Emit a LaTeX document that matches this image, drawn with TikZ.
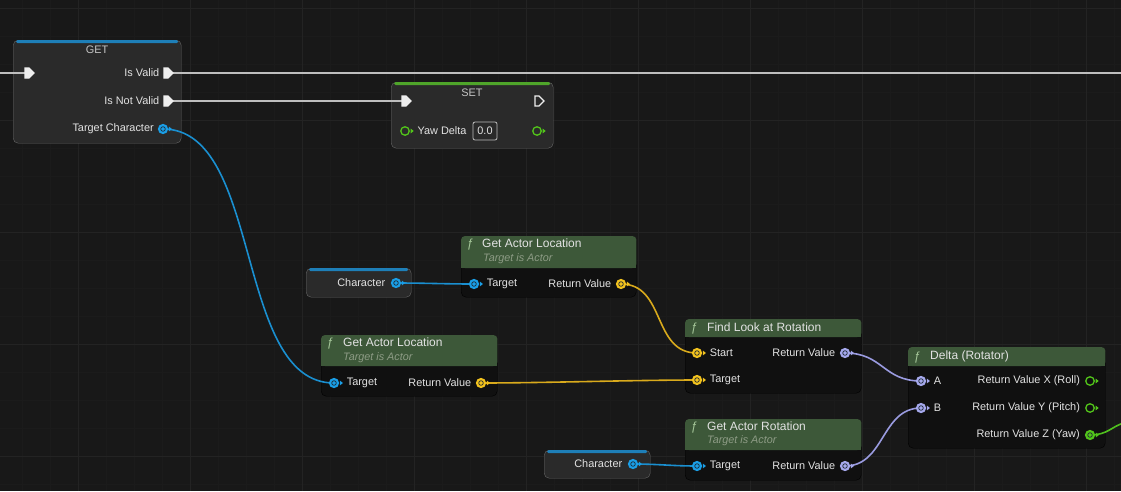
\documentclass[tikz,border=0pt]{standalone}
\usepackage{fontspec}
\setmainfont{Liberation Sans}
\usetikzlibrary{shapes.symbols, positioning}
\usepackage{xcolor}
\definecolor{canvas}{HTML}{181818}
\definecolor{gridmin}{HTML}{1B1B1B}
\definecolor{gridmaj}{HTML}{232323}
\definecolor{varbody}{HTML}{2A2A2A}
\definecolor{fbody}{HTML}{101010}
\definecolor{headc}{HTML}{3D5839}
\definecolor{lblc}{HTML}{E2E2E2}
\definecolor{hdrc}{HTML}{C4C4C4}
\definecolor{subc}{HTML}{8E9C86}
\definecolor{fsymc}{HTML}{A6C79A}
\definecolor{objc}{HTML}{1A9EE6}
\definecolor{objw}{HTML}{1A8FD0}
\definecolor{vecc}{HTML}{F2C21E}
\definecolor{vecw}{HTML}{D9AA1C}
\definecolor{rotc}{HTML}{A5A8EC}
\definecolor{rotw}{HTML}{9A9BE0}
\definecolor{floatc}{HTML}{52C41A}
\definecolor{floatw}{HTML}{4FBF1E}
\definecolor{getstripe}{HTML}{1E7FB8}
\definecolor{setstripe}{HTML}{4FA52A}
\definecolor{execc}{HTML}{EEEEEE}
\definecolor{execw}{HTML}{BEBEBE}
\definecolor{pinring}{HTML}{1E2A33}
\definecolor{boxc}{HTML}{BDBDBD}

\pgfdeclarelayer{grid}
\pgfdeclarelayer{body}
\pgfdeclarelayer{wire}
\pgfsetlayers{grid,body,wire,main}

\begin{document}
\begin{tikzpicture}[
    x=1pt, y=-1pt,
    font=\fontsize{10.9}{12}\selectfont,
    varbox/.style={fill=varbody, draw=black!60, line width=0.4pt, rounded corners=5pt, anchor=north west, inner sep=0},
    funcbox/.style={fill=fbody, draw=black, line width=0.4pt, rounded corners=5pt, anchor=north west, inner sep=0},
    lbl/.style={text=lblc, inner sep=0.5pt},
    title/.style={text=lblc, font=\fontsize{12}{14}\selectfont, anchor=west, inner sep=0},
    subtitle/.style={text=subc, font=\fontsize{10.8}{12}\selectfont\itshape, anchor=west, inner sep=0},
    fsym/.style={text=fsymc, font=\fontsize{12}{14}\selectfont\itshape, inner sep=0},
    datapin/.style={circle, draw=#1, fill=#1, line width=1.2pt, minimum size=9pt, inner sep=0,
        path picture={\draw[pinring, line width=0.7pt] (path picture bounding box.center) circle (2.3pt);},
        append after command={\pgfextra{\fill[#1] (\tikzlastnode.east) ++(0.8,-2.4) -- ++(3,2.4) -- ++(-3,2.4) -- cycle;}}},
    openpin/.style={circle, draw=#1, line width=1.3pt, minimum size=8.5pt, inner sep=0,
        append after command={\pgfextra{\fill[#1] (\tikzlastnode.east) ++(0.8,-2.4) -- ++(3,2.4) -- ++(-3,2.4) -- cycle;}}},
    execpin/.style={signal, signal to=east, draw=execc, fill=#1, line width=1.1pt, minimum width=9pt, minimum height=10pt, inner sep=0},
    execwire/.style={draw=execw, line width=1.6pt},
    wire/.style={draw=#1, line width=1.6pt},
]
\useasboundingbox (0,0) rectangle (1121,491);

% canvas grid
\begin{pgfonlayer}{grid}
\fill[canvas] (0,0) rectangle (1121,491);
\foreach \g in {22,50,...,1121} \draw[gridmin, line width=0.8pt] (\g,0) -- (\g,491);
\foreach \g in {8,36,...,491} \draw[gridmin, line width=0.8pt] (0,\g) -- (1121,\g);
\foreach \g in {78,190,...,1121} \draw[gridmaj, line width=1pt] (\g,0) -- (\g,491);
\foreach \g in {8,120,...,491} \draw[gridmaj, line width=1pt] (0,\g) -- (1121,\g);
\end{pgfonlayer}

% node bodies
\begin{pgfonlayer}{body}
\node[varbox, minimum width=168pt, minimum height=103pt] (get) at (13,40) {};
\fill[getstripe, rounded corners=1.5pt] ([xshift=3pt,yshift=-0.2pt]get.north west) rectangle ([xshift=-3pt,yshift=-3pt]get.north east);
\node[varbox, minimum width=162pt, minimum height=66pt] (set) at (391,82) {};
\fill[setstripe, rounded corners=1.5pt] ([xshift=3pt,yshift=-0.2pt]set.north west) rectangle ([xshift=-3pt,yshift=-3pt]set.north east);
\node[varbox, minimum width=105pt, minimum height=29pt] (charone) at (306,268) {};
\fill[getstripe, rounded corners=1.5pt] ([xshift=3pt,yshift=-0.2pt]charone.north west) rectangle ([xshift=-3pt,yshift=-3pt]charone.north east);
\node[varbox, minimum width=106pt, minimum height=28pt] (chartwo) at (544,450) {};
\fill[getstripe, rounded corners=1.5pt] ([xshift=3pt,yshift=-0.2pt]chartwo.north west) rectangle ([xshift=-3pt,yshift=-3pt]chartwo.north east);

\node[funcbox, minimum width=175pt, minimum height=61pt] (galone) at (461,236) {};
\fill[headc, rounded corners=4pt] (galone.north west) rectangle ([yshift=-32pt]galone.north east);
\fill[headc] ([yshift=-20pt]galone.north west) rectangle ([yshift=-32pt]galone.north east);
\node[funcbox, minimum width=176pt, minimum height=61pt] (galtwo) at (321,335) {};
\fill[headc, rounded corners=4pt] (galtwo.north west) rectangle ([yshift=-31pt]galtwo.north east);
\fill[headc] ([yshift=-20pt]galtwo.north west) rectangle ([yshift=-31pt]galtwo.north east);
\node[funcbox, minimum width=176pt, minimum height=74pt] (findrot) at (685,319) {};
\fill[headc, rounded corners=4pt] (findrot.north west) rectangle ([yshift=-18pt]findrot.north east);
\fill[headc] ([yshift=-10pt]findrot.north west) rectangle ([yshift=-18pt]findrot.north east);
\node[funcbox, minimum width=197pt, minimum height=101pt] (delta) at (908,347) {};
\fill[headc, rounded corners=4pt] (delta.north west) rectangle ([yshift=-19pt]delta.north east);
\fill[headc] ([yshift=-10pt]delta.north west) rectangle ([yshift=-19pt]delta.north east);
\node[funcbox, minimum width=176pt, minimum height=61pt] (garot) at (685,419) {};
\fill[headc, rounded corners=4pt] (garot.north west) rectangle ([yshift=-31pt]garot.north east);
\fill[headc] ([yshift=-20pt]garot.north west) rectangle ([yshift=-31pt]garot.north east);
\end{pgfonlayer}

% GET
\node[lbl, text=hdrc] (gettitle) at (97,50) {GET};
\node[execpin=execc] (getin) at (27,73) {};
\node[execpin=execc] (isvalid) at (166,73) {};
\node[execpin=execc] (notvalid) at (166,101) {};
\node[datapin=objc] (tgtchar) at (163,129) {};
\node[lbl, left=3.5pt of isvalid] (isvalidl) {Is Valid};
\node[lbl, left=3.5pt of notvalid] (notvalidl) {Is Not Valid};
\node[lbl, left=3.5pt of tgtchar] (tgtcharl) {Target Character};
\coordinate (execin) at (0,73);
\coordinate (execout) at (1121,73);

% SET
\node[lbl, text=hdrc] (settitle) at (472,93) {SET};
\node[execpin=execc] (setin) at (404,101) {};
\node[execpin=varbody] (setout) at (537,101) {};
\node[openpin=floatc] (yawin) at (405,131) {};
\node[lbl, right=7pt of yawin] (yawl) {Yaw Delta};
\node[draw=boxc, rounded corners=2pt, line width=0.8pt, text=lblc, minimum width=24pt, minimum height=18pt, inner sep=1pt] (yawval) at (485,131) {0.0};
\node[openpin=floatc] (yawout) at (537,131) {};

% Character variables
\node[datapin=objc] (charonepin) at (396,283) {};
\node[lbl, left=5pt of charonepin] (charonel) {Character};
\node[datapin=objc] (chartwopin) at (633,464) {};
\node[lbl, left=5pt of chartwopin] (chartwol) {Character};

% Get Actor Location (top)
\node[fsym] (galonef) at (470,245) {ƒ};
\node[title] (galonet) at (482,243) {Get Actor Location};
\node[subtitle] (galones) at (483,259) {Target is Actor};
\node[datapin=objc] (galonetgt) at (474,284) {};
\node[lbl, right=7pt of galonetgt] {Target};
\node[datapin=vecc] (galoneret) at (621,284) {};
\node[lbl, left=4pt of galoneret] {Return Value};

% Get Actor Location (bottom)
\node[fsym] (galtwof) at (330,344) {ƒ};
\node[title] (galtwot) at (343,342) {Get Actor Location};
\node[subtitle] (galtwos) at (343,358) {Target is Actor};
\node[datapin=objc] (galtwotgt) at (334,383) {};
\node[lbl, right=7pt of galtwotgt] {Target};
\node[datapin=vecc] (galtworet) at (481,383) {};
\node[lbl, left=4pt of galtworet] {Return Value};

% Find Look at Rotation
\node[fsym] (findf) at (694,329) {ƒ};
\node[title] (findt) at (707,327) {Find Look at Rotation};
\node[datapin=vecc] (findstart) at (697,353) {};
\node[lbl, right=7pt of findstart] {Start};
\node[datapin=vecc] (findtgt) at (697,380) {};
\node[lbl, right=7pt of findtgt] {Target};
\node[datapin=rotc] (findret) at (845,353) {};
\node[lbl, left=4pt of findret] {Return Value};

% Delta (Rotator)
\node[fsym] (deltaf) at (917,358) {ƒ};
\node[title] (deltat) at (930,356) {Delta (Rotator)};
\node[datapin=rotc] (deltaa) at (921,381) {};
\node[lbl, right=7pt of deltaa] {A};
\node[datapin=rotc] (deltab) at (921,408) {};
\node[lbl, right=7pt of deltab] {B};
\node[openpin=floatc] (deltax) at (1090,381) {};
\node[lbl, left=4.5pt of deltax] {Return Value X (Roll)};
\node[openpin=floatc] (deltay) at (1090,408) {};
\node[lbl, left=4.5pt of deltay] {Return Value Y (Pitch)};
\node[datapin=floatc] (deltaz) at (1090,435) {};
\node[lbl, left=4.5pt of deltaz] {Return Value Z (Yaw)};
\coordinate (zout) at (1124,423);

% Get Actor Rotation
\node[fsym] (garf) at (694,428) {ƒ};
\node[title] (gart) at (707,426) {Get Actor Rotation};
\node[subtitle] (gars) at (707,441) {Target is Actor};
\node[datapin=objc] (gartgt) at (697,466) {};
\node[lbl, right=7pt of gartgt] {Target};
\node[datapin=rotc] (garret) at (845,466) {};
\node[lbl, left=4pt of garret] {Return Value};

% Wires
\begin{pgfonlayer}{wire}
\draw[execwire] (execin) -- (getin.center);
\draw[execwire] (isvalid.center) -- (execout);
\draw[execwire] (notvalid.center) -- (setin.center);
\draw[wire=objw] (tgtchar.center) .. controls +(100,0) and +(-100,0) .. (galtwotgt.center);
\draw[wire=objw] (charonepin.center) .. controls +(30,0) and +(-30,0) .. (galonetgt.center);
\draw[wire=objw] (chartwopin.center) .. controls +(25,0) and +(-25,0) .. (gartgt.center);
\draw[wire=vecw] (galoneret.center) .. controls +(45,0) and +(-45,0) .. (findstart.center);
\draw[wire=vecw] (galtworet.center) .. controls +(60,0) and +(-60,0) .. (findtgt.center);
\draw[wire=rotw] (findret.center) .. controls +(38,0) and +(-38,0) .. (deltaa.center);
\draw[wire=rotw] (garret.center) .. controls +(40,0) and +(-40,0) .. (deltab.center);
\draw[wire=floatw] (deltaz.center) .. controls +(18,0) and +(-12,3) .. (zout);
\end{pgfonlayer}

\end{tikzpicture}
\end{document}
